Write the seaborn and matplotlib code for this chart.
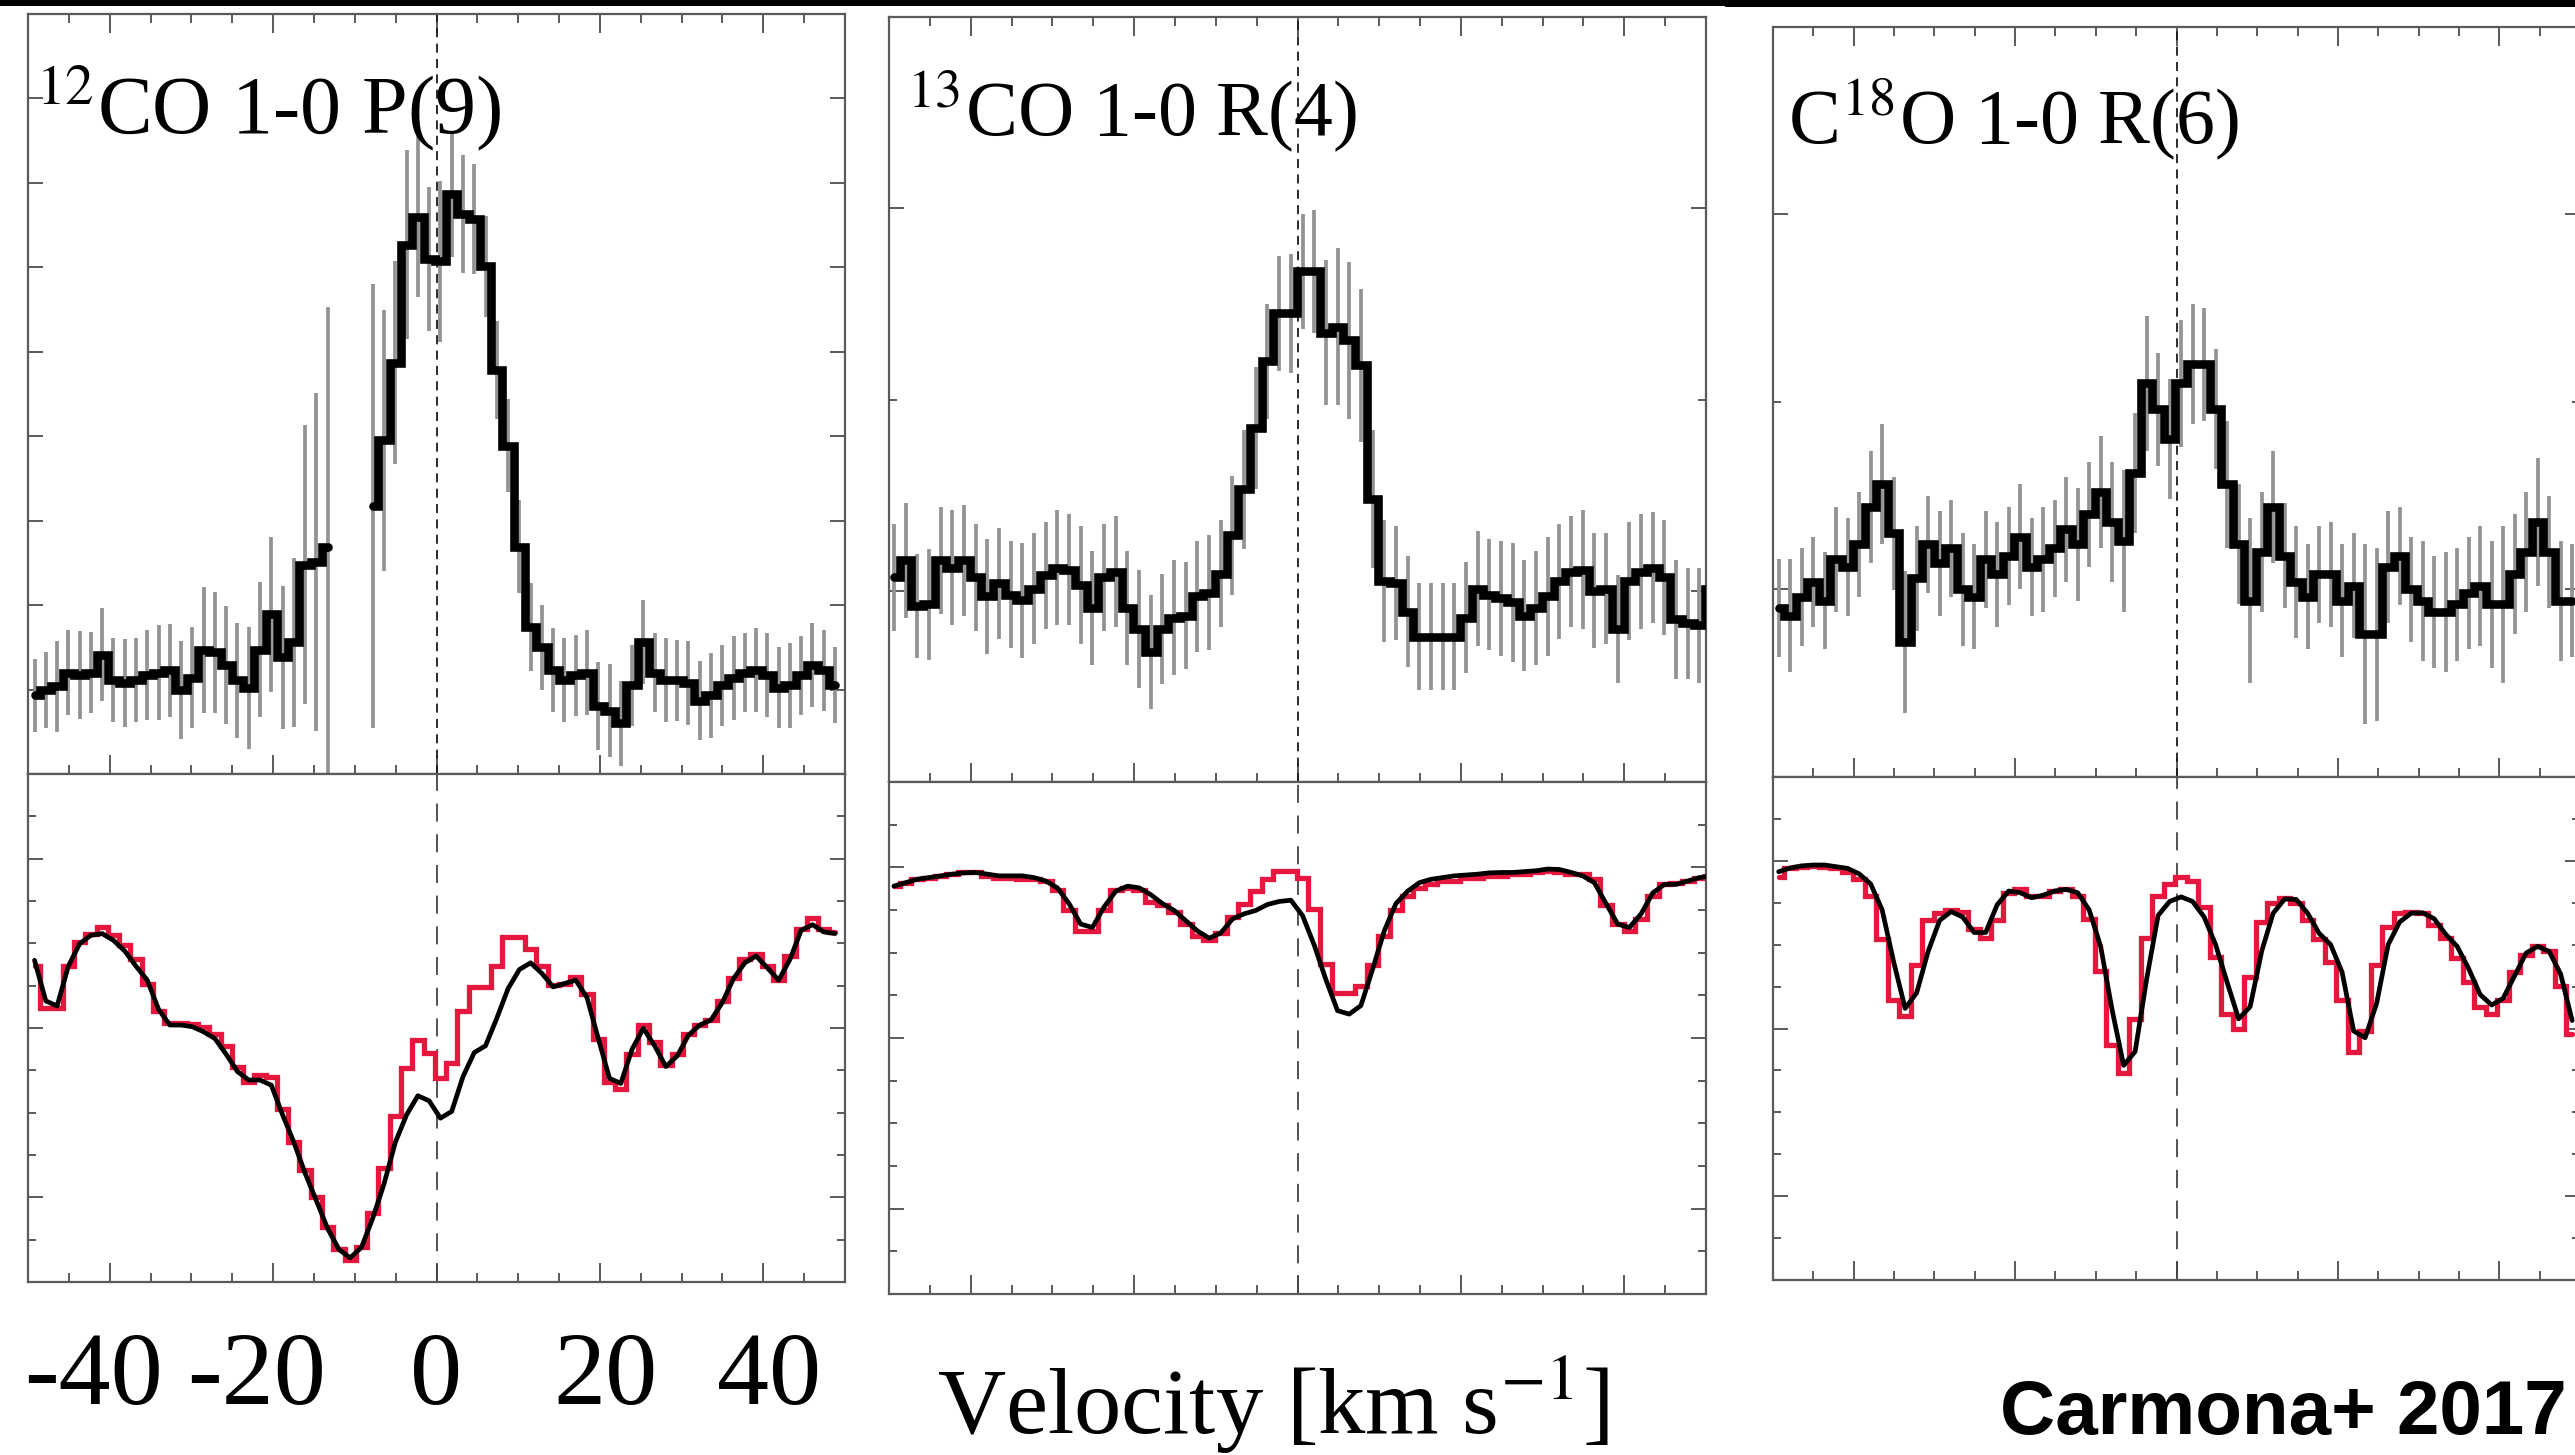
import numpy as np
import pandas as pd
import matplotlib
matplotlib.use("Agg")
import matplotlib.pyplot as plt
import seaborn as sns
from matplotlib.ticker import MultipleLocator, FixedLocator
from matplotlib.patches import Rectangle
from matplotlib.transforms import blended_transform_factory, ScaledTranslation

# ---------------- data ----------------
nan = np.nan
# 12CO 1-0 P(9)
co12_v0, co12_dv = -49.2, 1.38
co12_flux = [0.993, 0.999, 1.004, 1.020, 1.017, 1.020, 1.041, 1.011, 1.008, 1.011,
             1.017, 1.020, 1.023, 0.999, 1.014, 1.047, 1.044, 1.029, 1.011, 1.002,
             1.047, 1.089, 1.038, 1.056, 1.148, 1.151, 1.169, nan, nan, nan,
             1.217, 1.295, 1.387, 1.527, 1.560, 1.510, 1.507, 1.587, 1.563, 1.557,
             1.501, 1.378, 1.289, 1.169, 1.074, 1.050, 1.023, 1.011, 1.017, 1.020,
             0.981, 0.975, 0.960, 1.005, 1.056, 1.020, 1.011, 1.011, 1.008, 0.987,
             0.993, 1.005, 1.014, 1.020, 1.023, 1.017, 1.002, 1.005, 1.017, 1.029,
             1.023, 1.005]
co12_err = [0.043, 0.045, 0.054, 0.050, 0.052, 0.048, 0.055, 0.050, 0.052, 0.050,
            0.053, 0.056, 0.055, 0.058, 0.060, 0.075, 0.072, 0.070, 0.068, 0.072,
            0.080, 0.092, 0.085, 0.100, 0.165, 0.200, 0.284, nan, nan, nan,
            0.263, 0.155, 0.120, 0.112, 0.095, 0.085, 0.095, 0.075, 0.070, 0.065,
            0.060, 0.058, 0.055, 0.055, 0.052, 0.050, 0.050, 0.050, 0.048, 0.050,
            0.052, 0.055, 0.050, 0.048, 0.050, 0.047, 0.050, 0.048, 0.050, 0.047,
            0.050, 0.048, 0.050, 0.047, 0.050, 0.050, 0.048, 0.050, 0.047, 0.050,
            0.048, 0.045]
co12_tell_obs = [0.746, 0.648, 0.648, 0.746, 0.803, 0.823, 0.839, 0.819, 0.795, 0.762,
                 0.705, 0.640, 0.611, 0.611, 0.609, 0.603, 0.587, 0.558, 0.509, 0.473,
                 0.489, 0.485, 0.408, 0.330, 0.265, 0.200, 0.130, 0.077, 0.053, 0.082,
                 0.163, 0.269, 0.391, 0.505, 0.571, 0.542, 0.481, 0.518, 0.640, 0.697,
                 0.697, 0.746, 0.815, 0.815, 0.786, 0.746, 0.701, 0.705, 0.721, 0.681,
                 0.575, 0.473, 0.456, 0.538, 0.607, 0.566, 0.513, 0.538, 0.587, 0.607,
                 0.619, 0.664, 0.717, 0.762, 0.774, 0.746, 0.713, 0.770, 0.835, 0.860,
                 0.835, 0.827]
co12_tell_model = [0.760, 0.664, 0.652, 0.746, 0.799, 0.819, 0.823, 0.807, 0.782, 0.746,
                   0.713, 0.644, 0.607, 0.607, 0.603, 0.591, 0.575, 0.538, 0.497, 0.477,
                   0.477, 0.465, 0.395, 0.330, 0.257, 0.192, 0.126, 0.077, 0.057, 0.082,
                   0.151, 0.232, 0.330, 0.395, 0.440, 0.428, 0.387, 0.403, 0.485, 0.542,
                   0.558, 0.623, 0.693, 0.738, 0.754, 0.729, 0.697, 0.705, 0.713, 0.672,
                   0.575, 0.481, 0.469, 0.550, 0.599, 0.558, 0.509, 0.534, 0.583, 0.607,
                   0.619, 0.660, 0.717, 0.754, 0.770, 0.742, 0.713, 0.762, 0.831, 0.844,
                   0.827, 0.823]

# 13CO 1-0 R(4)
co13_v0, co13_dv = -49.4, 1.429
co13_flux = [1.007, 1.016, 0.992, 0.993, 1.016, 1.012, 1.016, 1.007, 0.997, 1.004,
             0.998, 0.995, 1.001, 1.008, 1.012, 1.011, 1.003, 0.991, 1.007, 1.010,
             0.991, 0.980, 0.968, 0.980, 0.986, 0.987, 0.997, 0.999, 1.009, 1.029,
             1.053, 1.085, 1.120, 1.145, 1.145, 1.167, 1.167, 1.135, 1.138, 1.131,
             1.118, 1.048, 1.005, 1.004, 0.989, 0.976, 0.976, 0.976, 0.976, 0.986,
             1.001, 0.998, 0.996, 0.994, 0.987, 0.991, 0.997, 1.005, 1.010, 1.011,
             1.000, 1.001, 0.980, 1.005, 1.010, 1.012, 1.007, 0.985, 0.983, 0.982,
             1.001]
co13_err = [0.028, 0.030, 0.027, 0.029, 0.028, 0.030, 0.029, 0.028, 0.030, 0.029,
            0.028, 0.030, 0.029, 0.028, 0.030, 0.029, 0.031, 0.030, 0.028, 0.029,
            0.030, 0.031, 0.030, 0.029, 0.030, 0.028, 0.029, 0.030, 0.028, 0.031,
            0.031, 0.032, 0.030, 0.030, 0.031, 0.030, 0.032, 0.038, 0.041, 0.041,
            0.040, 0.036, 0.032, 0.030, 0.029, 0.028, 0.028, 0.028, 0.028, 0.029,
            0.030, 0.029, 0.030, 0.031, 0.029, 0.030, 0.031, 0.030, 0.029, 0.031,
            0.030, 0.029, 0.028, 0.031, 0.030, 0.029, 0.030, 0.031, 0.029, 0.030,
            0.029]
co13_tell_obs = [0.956, 0.964, 0.972, 0.976, 0.980, 0.984, 0.988, 0.988, 0.980, 0.976,
                 0.974, 0.972, 0.972, 0.968, 0.948, 0.899, 0.851, 0.851, 0.899, 0.948,
                 0.952, 0.948, 0.919, 0.911, 0.895, 0.867, 0.838, 0.830, 0.846, 0.883,
                 0.915, 0.944, 0.972, 0.992, 0.992, 0.976, 0.903, 0.774, 0.705, 0.705,
                 0.721, 0.770, 0.838, 0.899, 0.932, 0.952, 0.960, 0.968, 0.968, 0.976,
                 0.976, 0.980, 0.980, 0.984, 0.984, 0.988, 0.992, 0.990, 0.984, 0.984,
                 0.972, 0.911, 0.867, 0.851, 0.879, 0.932, 0.960, 0.964, 0.968, 0.976,
                 0.980]
co13_tell_model = [0.956, 0.964, 0.972, 0.976, 0.980, 0.984, 0.987, 0.988, 0.984, 0.980,
                   0.980, 0.980, 0.976, 0.968, 0.952, 0.915, 0.867, 0.859, 0.907, 0.944,
                   0.956, 0.952, 0.936, 0.915, 0.899, 0.875, 0.851, 0.834, 0.846, 0.879,
                   0.891, 0.899, 0.913, 0.920, 0.923, 0.887, 0.818, 0.737, 0.664, 0.656,
                   0.676, 0.761, 0.851, 0.915, 0.944, 0.964, 0.972, 0.976, 0.980, 0.982,
                   0.984, 0.987, 0.988, 0.988, 0.990, 0.992, 0.996, 0.995, 0.988, 0.980,
                   0.964, 0.915, 0.867, 0.859, 0.891, 0.940, 0.960, 0.960, 0.968, 0.976,
                   0.980]

# C18O 1-0 R(6)
c18o_v0, c18o_dv = -49.3, 1.425
c18o_flux = [0.995, 0.993, 0.998, 1.002, 0.997, 1.008, 1.006, 1.012, 1.022, 1.028,
             1.015, 0.986, 1.003, 1.012, 1.007, 1.011, 1.000, 0.998, 1.008, 1.004,
             1.009, 1.014, 1.006, 1.008, 1.011, 1.016, 1.012, 1.020, 1.026, 1.018,
             1.013, 1.031, 1.055, 1.048, 1.040, 1.055, 1.060, 1.060, 1.048, 1.028,
             1.012, 0.997, 1.010, 1.022, 1.009, 1.002, 0.998, 1.004, 1.004, 0.997,
             1.001, 0.988, 0.988, 1.006, 1.009, 1.000, 0.997, 0.994, 0.994, 0.996,
             0.999, 1.001, 0.996, 0.996, 1.004, 1.010, 1.018, 1.010, 0.997, 0.997]
c18o_err = [0.013, 0.015, 0.013, 0.012, 0.013, 0.014, 0.013, 0.014, 0.015, 0.016,
            0.015, 0.019, 0.014, 0.013, 0.014, 0.013, 0.015, 0.014, 0.013, 0.014,
            0.013, 0.014, 0.013, 0.014, 0.013, 0.014, 0.015, 0.014, 0.015, 0.016,
            0.019, 0.016, 0.018, 0.015, 0.016, 0.017, 0.016, 0.015, 0.016, 0.017,
            0.016, 0.022, 0.016, 0.015, 0.014, 0.015, 0.014, 0.013, 0.014, 0.015,
            0.014, 0.024, 0.023, 0.015, 0.013, 0.014, 0.016, 0.015, 0.016, 0.015,
            0.015, 0.016, 0.017, 0.021, 0.016, 0.016, 0.017, 0.015, 0.016, 0.015]
c18o_tell_obs = [0.961, 0.982, 0.986, 0.988, 0.986, 0.982, 0.974, 0.957, 0.916, 0.813,
                 0.668, 0.631, 0.751, 0.858, 0.875, 0.883, 0.879, 0.837, 0.817, 0.858,
                 0.924, 0.932, 0.916, 0.916, 0.928, 0.932, 0.916, 0.862, 0.738, 0.561,
                 0.495, 0.623, 0.817, 0.916, 0.945, 0.961, 0.953, 0.891, 0.771, 0.635,
                 0.598, 0.722, 0.854, 0.899, 0.912, 0.899, 0.858, 0.813, 0.759, 0.668,
                 0.545, 0.594, 0.751, 0.842, 0.875, 0.879, 0.875, 0.846, 0.817, 0.767,
                 0.710, 0.652, 0.635, 0.668, 0.734, 0.776, 0.796, 0.784, 0.701, 0.586]
c18o_tell_model = [0.974, 0.983, 0.988, 0.990, 0.990, 0.986, 0.982, 0.969, 0.945, 0.883,
                   0.759, 0.648, 0.685, 0.784, 0.858, 0.879, 0.866, 0.829, 0.829, 0.895,
                   0.928, 0.924, 0.912, 0.918, 0.928, 0.932, 0.924, 0.883, 0.796, 0.644,
                   0.512, 0.545, 0.718, 0.870, 0.903, 0.914, 0.903, 0.866, 0.800, 0.710,
                   0.623, 0.652, 0.784, 0.875, 0.909, 0.908, 0.875, 0.827, 0.800, 0.734,
                   0.594, 0.578, 0.660, 0.800, 0.854, 0.875, 0.876, 0.862, 0.825, 0.796,
                   0.743, 0.681, 0.656, 0.672, 0.726, 0.780, 0.796, 0.784, 0.730, 0.619]

line_labels = [r"$^{\mathrm{12}}$CO 1-0 P(9)", r"$^{\mathrm{13}}$CO 1-0 R(4)",
               r"C$^{\mathrm{18}}$O 1-0 R(6)"]
xtick_vals = [-40, -20, 0, 20, 40]
xtick_text = ["-40", "-20", "0", "20", "40"]

# ---------------- style ----------------
sns.set_theme(style="white")
plt.rcParams["font.family"] = ["Liberation Serif", "DejaVu Serif"]
plt.rcParams["mathtext.fontset"] = "stix"
plt.rcParams["axes.unicode_minus"] = False

W, H = 2575, 1455
fig = plt.figure(figsize=(W / 100, H / 100), dpi=100)
fig.patch.set_facecolor("white")

FRAME = "#5a5a5a"
ERRC = "#939393"
RED = "#e5173f"


def add_ax(x0, y0, x1, y1):
    return fig.add_axes([x0 / W, 1 - y1 / H, (x1 - x0) / W, (y1 - y0) / H])


def style_ax(ax, ylim, ymaj, ymin, top_ticks):
    ax.set_xlim(-50, 50)
    ax.set_ylim(*ylim)
    ax.xaxis.set_major_locator(MultipleLocator(20))
    ax.xaxis.set_minor_locator(MultipleLocator(5))
    ax.yaxis.set_major_locator(FixedLocator(ymaj))
    ax.yaxis.set_minor_locator(FixedLocator(ymin))
    ax.tick_params(which="both", direction="in", top=top_ticks, bottom=True,
                   left=True, right=True, labelbottom=False, labelleft=False,
                   color=FRAME, width=1.4)
    ax.tick_params(axis="x", which="major", length=14)
    ax.tick_params(axis="x", which="minor", length=6.5)
    ax.tick_params(axis="y", which="major", length=11)
    ax.tick_params(axis="y", which="minor", length=5.5)
    for s in ax.spines.values():
        s.set_color(FRAME)
        s.set_linewidth(1.6)
    ax.set_xlabel("")
    ax.set_ylabel("")
    ax.grid(False)
    ax.set_facecolor("white")


rects_top = [(28, 14, 845, 774), (889, 17, 1706, 782), (1773, 27, 2580, 777)]
rects_bot = [(28, 774, 845, 1282), (889, 782, 1706, 1294), (1773, 777, 2580, 1280)]
top_ylims = [(0.9, 1.8), (0.9, 1.3), (0.95, 1.15)]
top_ymaj = [[1.0, 1.1, 1.2, 1.3, 1.4, 1.5, 1.6, 1.7], [1.0, 1.2], [1.0, 1.1]]
top_ymin = [[], [1.1], [1.05]]
label_pos = [(0.008, 0.843), (0.021, 0.846), (0.019, 0.845)]
label_size = [59, 56, 56]

series = [
    (co12_v0, co12_dv, co12_flux, co12_err, co12_tell_obs, co12_tell_model),
    (co13_v0, co13_dv, co13_flux, co13_err, co13_tell_obs, co13_tell_model),
    (c18o_v0, c18o_dv, c18o_flux, c18o_err, c18o_tell_obs, c18o_tell_model),
]

for p, (v0, dv, flux, err, tobs, tmod) in enumerate(series):
    n = len(flux)
    vel = v0 + dv * np.arange(n)
    flux = np.asarray(flux, dtype=float)
    err = np.asarray(err, dtype=float)

    # ---------- top: emission line ----------
    ax = add_ax(*rects_top[p])
    ax.axvline(0, color="#1a1a1a", lw=1.3, ls=(0, (5, 3.5)), zorder=1)
    ax.errorbar(vel, flux, yerr=err, fmt="none", ecolor=ERRC, elinewidth=2.7,
                capsize=0, zorder=2)
    seg = np.cumsum(np.isnan(flux))
    df = pd.DataFrame({"v": vel, "flux": flux, "seg": seg}).dropna()
    sns.lineplot(data=df, x="v", y="flux", units="seg", estimator=None,
                 drawstyle="steps-mid", color="black", lw=6.2,
                 solid_joinstyle="miter", ax=ax, zorder=3)
    style_ax(ax, top_ylims[p], top_ymaj[p], top_ymin[p], True)
    ax.text(label_pos[p][0], label_pos[p][1], line_labels[p], transform=ax.transAxes,
            fontsize=label_size[p], ha="left", va="baseline", color="black", zorder=5)

    # ---------- bottom: telluric spectrum ----------
    axb = add_ax(*rects_bot[p])
    axb.axvline(0, color="#444444", lw=1.3, ls=(0, (10, 7)), zorder=1)
    dft = pd.DataFrame({"v": vel, "obs": tobs, "model": tmod})
    sns.lineplot(data=dft, x="v", y="obs", drawstyle="steps-mid", color=RED,
                 lw=3.8, solid_joinstyle="miter", ax=axb, zorder=2)
    sns.lineplot(data=dft, x="v", y="model", color="black", lw=3.4, ax=axb, zorder=3)
    style_ax(axb, (0.0, 1.2), [0.2, 0.6, 1.0],
             [0.1, 0.3, 0.4, 0.5, 0.7, 0.8, 0.9, 1.1], False)

    if p == 0:
        # velocity tick labels: digits centred on the tick, minus sign hanging left
        base = blended_transform_factory(axb.transData, fig.transFigure)
        for val, txt in zip(xtick_vals, xtick_text):
            shift = -12.0 / 72 if txt.startswith("-") else (4.0 / 72 if val > 0 else 0.0)
            tr = base + ScaledTranslation(shift, 0, fig.dpi_scale_trans)
            axb.text(val, 1 - 1404 / H, txt, transform=tr, ha="center", va="baseline",
                     fontsize=75, color="black", clip_on=False)

# axis title and credit
fig.text(1273 / W, 1 - 1434 / H, r"Velocity [km s$^{\mathrm{-1}}$]", ha="center",
         va="baseline", fontsize=68, color="black")
fig.text(2000 / W, 1 - 1434 / H, "Carmona+ 2017", ha="left", va="baseline",
         fontsize=55, fontweight="bold", family=["Liberation Sans", "DejaVu Sans"],
         color="black")

# thin black bar along the top edge of the screenshot
fig.add_artist(Rectangle((0, 1 - 6 / H), 1725 / W, 6 / H, transform=fig.transFigure,
                         color="black", lw=0))
fig.add_artist(Rectangle((1725 / W, 1 - 7 / H), 1 - 1725 / W, 7 / H,
                         transform=fig.transFigure, color="black", lw=0))

fig.savefig("out.png", dpi=100, facecolor="white")
